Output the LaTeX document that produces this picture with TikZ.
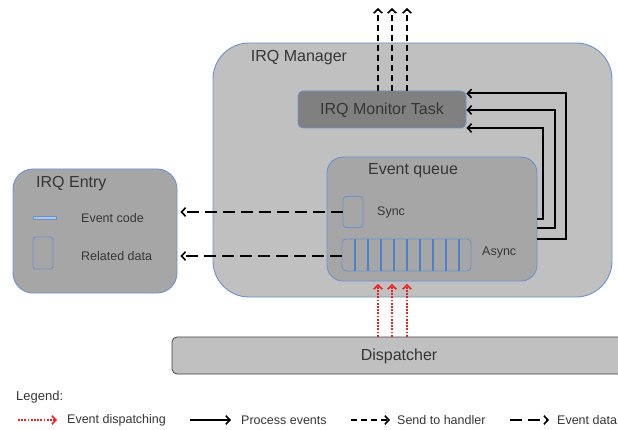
\documentclass[tikz,border=0pt]{standalone}
\usepackage{fontspec}
\setmainfont{Liberation Sans}
\usetikzlibrary{arrows.meta}
\definecolor{edgeblue}{HTML}{6A93CB}
\definecolor{cellblue}{HTML}{4A82D0}
\definecolor{mgrfill}{HTML}{C0C0C0}
\definecolor{boxfill}{HTML}{A6A6A6}
\definecolor{taskfill}{HTML}{808080}
\definecolor{txt}{HTML}{363636}
\definecolor{dispred}{HTML}{F02020}
\tikzset{
  panel/.style={draw=edgeblue, line width=0.9pt, inner sep=0pt},
  title/.style={text=txt, font=\fontsize{16}{18}\selectfont, inner sep=0pt},
  label/.style={text=txt, font=\fontsize{12.5}{14}\selectfont, inner sep=0pt, anchor=west},
  tip/.style={-{Straight Barb[length=4pt,width=8.5pt,line width=1.6pt]}},
  process/.style={tip, line width=2pt, black},
  handler/.style={tip, line width=2pt, black, dash pattern=on 6pt off 4pt},
  eventdata/.style={tip, line width=2pt, black, dash pattern=on 12pt off 6pt},
  dispatch/.style={tip, line width=2pt, dispred, dash pattern=on 1.8pt off 1.4pt},
}
\begin{document}
\begin{tikzpicture}[x=1pt,y=-1pt]
\useasboundingbox (0,0) rectangle (618,430);
\clip (0,0) rectangle (618,430);

% IRQ Manager container
\node[panel, fill=mgrfill, rounded corners=36pt, minimum width=399pt, minimum height=254pt] (mgr) at (412.5,170) {};
\node[title] (mgrtitle) at (299,58) {IRQ Manager};

% Monitor task
\node[panel, fill=taskfill, rounded corners=5pt, minimum width=168pt, minimum height=37pt] (mon) at (382,109.5) {};
\node[title] (montext) at (382,110) {IRQ Monitor Task};

% Event queue
\node[panel, fill=boxfill, rounded corners=16pt, minimum width=210pt, minimum height=124pt] (eq) at (432,219) {};
\node[title] (eqtitle) at (413,171) {Event queue};
\node[panel, rounded corners=3pt, minimum width=20pt, minimum height=31pt] (sync) at (353,212) {};
\node[label] (synctext) at (377,212) {Sync};
\node[panel, rounded corners=4pt, minimum width=129pt, minimum height=32pt] (async) at (406.5,255) {};
% slot separators of the async ring buffer
\foreach \x in {355,368,381,394,407,420,433,446,459}
  \draw[cellblue, line width=1.8pt] (\x,0 |- async.north) -- (\x,0 |- async.south);
\node[label] (asynctext) at (482,252) {Async};

% IRQ Entry
\node[panel, fill=boxfill, rounded corners=20pt, minimum width=164pt, minimum height=124pt] (entry) at (95,231) {};
\node[title, anchor=west] (entrytitle) at (36,184) {IRQ Entry};
\node[draw=edgeblue, fill=edgeblue!55, line width=0.7pt, inner sep=0pt, minimum width=23pt, minimum height=3pt] (codebar) at (44.5,218) {};
\node[label] (codetext) at (81,218) {Event code};
\node[panel, rounded corners=3pt, minimum width=20pt, minimum height=32pt] (databox) at (43,253) {};
\node[label] (datatext) at (81,256) {Related data};

% Dispatcher
\node[draw=black!75, fill=mgrfill, line width=0.8pt, rounded corners=5pt, minimum width=470pt, minimum height=37pt, inner sep=0pt] (disp) at (407,355.5) {};
\node[title] (disptext) at (399,356) {Dispatcher};

% Send to handler (out of the monitor task)
\foreach \x/\n in {378/a,392/b,407/c}
  \coordinate (up\n) at (\x,8);
\draw[handler] (mon.north -| upa) -- (upa);
\draw[handler] (mon.north -| upb) -- (upb);
\draw[handler] (mon.north -| upc) -- (upc);

% Event data (queue to entry)
\draw[eventdata] (sync.west) -- ([xshift=3pt]entry.east |- sync.west);
\draw[eventdata] (async.west |- 0,256) -- ([xshift=3pt]entry.east |- 0,256);

% Process events (queue back to monitor task)
\coordinate (ra) at (543,219);
\coordinate (rb) at (555,228);
\coordinate (rc) at (566,239);
\draw[process] (eq.east |- ra) -- (ra) -- (ra |- 0,128) -- (mon.east |- 0,128);
\draw[process] (eq.east |- rb) -- (rb) -- (rb |- 0,110) -- (mon.east |- 0,110);
\draw[process] (eq.east |- rc) -- (rc) -- (rc |- 0,93.5) -- (mon.east |- 0,93.5);

% Event dispatching (dispatcher into the queue)
\foreach \x/\n in {378/a,392/b,407/c}
  \coordinate (dn\n) at (\x,284);
\draw[dispatch] (disp.north -| dna) -- (dna);
\draw[dispatch] (disp.north -| dnb) -- (dnb);
\draw[dispatch] (disp.north -| dnc) -- (dnc);

% Legend
\node[label, font=\fontsize{13}{15}\selectfont] (legtitle) at (16,397) {Legend:};
\coordinate (l1a) at (18,420);  \coordinate (l1b) at (57,420);
\coordinate (l2a) at (190,420); \coordinate (l2b) at (231,420);
\coordinate (l3a) at (351,420); \coordinate (l3b) at (390,420);
\coordinate (l4a) at (510,420); \coordinate (l4b) at (549,420);
\draw[dispatch] (l1a) -- (l1b);
\node[label] (leg1) at (67,420) {Event dispatching};
\draw[process] (l2a) -- (l2b);
\node[label] (leg2) at (241,420) {Process events};
\draw[handler] (l3a) -- (l3b);
\node[label] (leg3) at (397,420) {Send to handler};
\draw[eventdata] (l4a) -- (l4b);
\node[label] (leg4) at (557,420) {Event data};
\end{tikzpicture}
\end{document}
